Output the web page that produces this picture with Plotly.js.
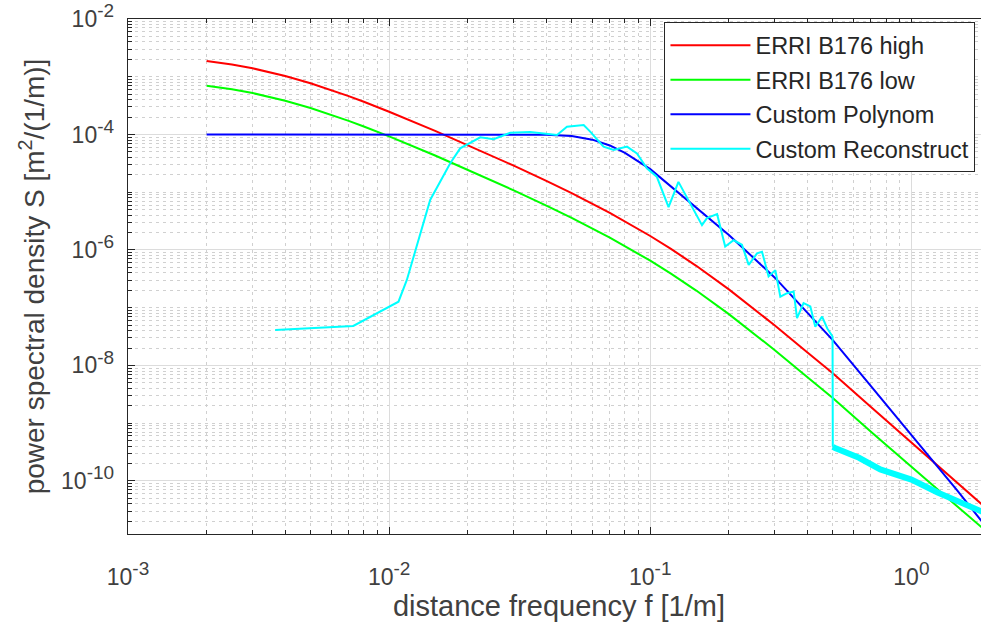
<!DOCTYPE html>
<html><head><meta charset="utf-8">
<script src="https://cdn.plot.ly/plotly-3.0.1.min.js"></script>
<style>html,body{margin:0;padding:0;overflow:hidden;background:#fff}#chart{width:995px;height:632px}</style>
</head><body><div id="chart"></div>
<script>
// ERRI B176 spectra
const freqErri = [0.002,0.0025,0.003,0.004,0.005,0.006,0.007,0.008,0.01,0.015,0.02,0.03,0.04,0.05,0.07,0.1,0.12,0.15,0.2,0.3,0.4,0.5,0.7,1,1.5,2];
const psdHigh = [1.87e-3,1.624e-3,1.40e-3,1.032e-3,7.72e-4,5.90e-4,4.61e-4,3.683e-4,2.48e-4,1.157e-4,6.57e-5,2.883e-5,1.569e-5,9.61e-6,4.377e-6,1.744e-6,1.043e-6,5.31e-7,2.073e-7,4.917e-8,1.673e-8,7.3e-9,1.908e-9,4.662e-10,9.3e-11,2.95e-11];
const psdLow = [6.99e-4,6.06e-4,5.22e-4,3.85e-4,2.88e-4,2.20e-4,1.72e-4,1.374e-4,9.25e-5,4.32e-5,2.45e-5,1.076e-5,5.85e-6,3.59e-6,1.633e-6,6.51e-7,3.89e-7,1.98e-7,7.74e-8,1.835e-8,6.24e-9,2.72e-9,7.12e-10,1.74e-10,3.6e-11,1.18e-11];
// Custom polynomial
const freqPoly = [0.002,0.01,0.02,0.03,0.04,0.05,0.06,0.07,0.08,0.1,0.15,0.2,0.3,0.5,0.7,1,1.5,2];
const psdPoly = [1e-4,1e-4,1e-4,1e-4,9.93e-5,9.44e-5,8.13e-5,6.46e-5,4.79e-5,2.51e-5,5.5e-6,1.82e-6,3.31e-7,2.75e-8,4.37e-9,6.31e-10,6.76e-11,1.32e-11];
// Custom reconstruct
const freqRec = [0.00366,0.00729,0.01086,0.01169,0.01436,0.01714,0.01871,0.02234,0.02512,0.02911,0.03467,0.04395,0.04797,0.05559,0.05888,0.06622,0.07244,0.08147,0.08892,0.09705,0.1059,0.1175,0.1282,0.1422,0.1578,0.1648,0.1803,0.1936,0.2084,0.2244,0.2382,0.2564,0.2679,0.2838,0.3013,0.3148,0.3342,0.3540,0.3648,0.3864,0.4102,0.4285,0.4550,0.4764,0.4898,0.4989,0.5];
const psdRec = [4.12e-8,4.83e-8,1.27e-7,3.02e-7,7.35e-6,3.17e-5,5.75e-5,8.91e-5,8.26e-5,1.07e-4,1.10e-4,9.77e-5,1.36e-4,1.46e-4,1.12e-4,6.17e-5,5.37e-5,6.17e-5,4.68e-5,2.60e-5,1.86e-5,5.50e-6,1.51e-5,6.46e-6,2.69e-6,3.55e-6,4.17e-6,1.15e-6,1.48e-6,1.23e-6,5.50e-7,8.71e-7,9.33e-7,3.47e-7,4.47e-7,1.55e-7,1.78e-7,1.91e-7,6.61e-8,1.20e-7,1.05e-7,4.68e-8,7.00e-8,4.37e-8,3.63e-8,3.16e-8,3.89e-10];
const freqRecTail = [0.5,0.51,0.63,0.76,1.0,1.26,1.86,2];
const psdRecTail = [3.89e-10,3.72e-10,2.51e-10,1.58e-10,1.05e-10,6.3e-11,2.95e-11,2.5e-11];

const sup = s => '10<sup><span style="font-size:19px">' + s + '</span></sup>';
const xTickVals = [0.001,0.01,0.1,1];
const xTickText = [sup('-3'),sup('-2'),sup('-1'),sup('0')];
const yTickVals = [1e-10,1e-8,1e-6,1e-4,1e-2];
const yTickText = [sup('-10'),sup('-8'),sup('-6'),sup('-4'),sup('-2')];

const xMinor = [];
for (let n=-3;n<=0;n++) for (let k=2;k<=9;k++) xMinor.push(k*Math.pow(10,n));
const yMinor = [];
for (let n=-11;n<=-3;n++) for (let k=1;k<=9;k++) { if (k===1 && n%2===0) continue; yMinor.push(k*Math.pow(10,n)); }

const FONT = 'Liberation Sans, Arial, sans-serif';
const AX = '#262626';

const traces = [
 {x:freqErri,y:psdHigh,name:'ERRI B176 high',mode:'lines',line:{color:'#ff0000',width:2},legendgroup:'a'},
 {x:freqErri,y:psdLow,name:'ERRI B176 low',mode:'lines',line:{color:'#00ff00',width:2},legendgroup:'b'},
 {x:freqPoly,y:psdPoly,name:'Custom Polynom',mode:'lines',line:{color:'#0000ff',width:2},legendgroup:'c'},
 {x:freqRec,y:psdRec,name:'Custom Reconstruct',mode:'lines',line:{color:'#00ffff',width:2},legendgroup:'d'},
 {x:freqRecTail,y:psdRecTail,name:'Custom Reconstruct',mode:'lines',line:{color:'#00ffff',width:6},legendgroup:'d',showlegend:false}
];

function axisBase(){
 return {type:'log',tickmode:'array',ticks:'inside',ticklen:7,tickwidth:1,tickcolor:AX,
  showline:true,linecolor:AX,linewidth:1.3,mirror:'ticks',showgrid:true,gridcolor:'#dcdcdc',gridwidth:1,
  zeroline:false,tickfont:{family:FONT,size:23,color:'#404040'},automargin:false};
}
const xaxis = Object.assign(axisBase(),{range:[-3,0.301],tickvals:xTickVals,ticktext:xTickText,ticklabelstandoff:22,
 title:{text:'distance frequency f [1/m]',font:{family:FONT,size:29,color:'#404040'},standoff:6},
 minor:{tickmode:'array',tickvals:xMinor,ticks:'inside',ticklen:4,tickcolor:AX,showgrid:true,gridcolor:'#d0d0d0',griddash:'3px,4px',gridwidth:1}});
const yaxis = Object.assign(axisBase(),{range:[-10.92,-2],tickvals:yTickVals,ticktext:yTickText,ticklabelstandoff:8,
 title:{text:'power spectral density S [m<sup>2</sup>/(1/m)]',font:{family:FONT,size:28,color:'#404040'},standoff:8},
 minor:{tickmode:'array',tickvals:yMinor,ticks:'inside',ticklen:4,tickcolor:AX,showgrid:true,gridcolor:'#d0d0d0',griddash:'3px,4px',gridwidth:1}});

const layout = {width:995,height:632,margin:{l:128,r:5,t:19,b:98},paper_bgcolor:'#fff',plot_bgcolor:'#fff',
 xaxis:xaxis,yaxis:yaxis,
 legend:{x:0.622,y:0.994,xanchor:'left',yanchor:'top',bgcolor:'#fff',bordercolor:AX,borderwidth:1.3,
  font:{family:FONT,size:23.5,color:AX},itemwidth:80,tracegroupgap:1},
 showlegend:true};
Plotly.newPlot('chart',traces,layout,{staticPlot:true,displayModeBar:false});
</script></body></html>
